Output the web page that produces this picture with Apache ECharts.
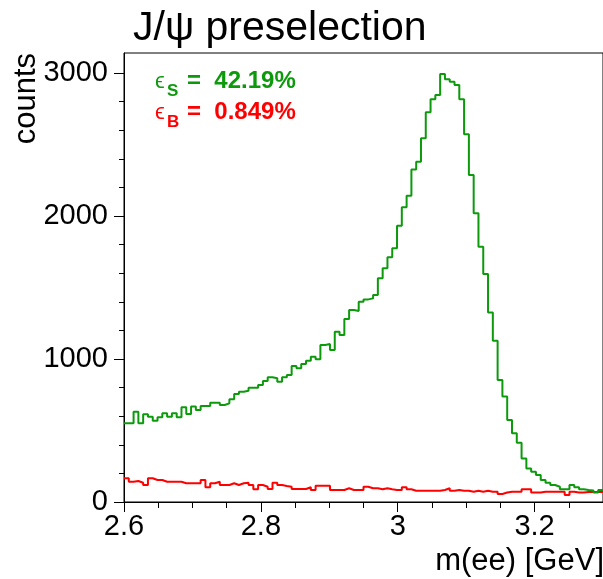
<!DOCTYPE html>
<html>
<head>
<meta charset="utf-8">
<script src="https://cdn.jsdelivr.net/npm/echarts@6/dist/echarts.min.js"></script>
<style>
  html, body { margin: 0; padding: 0; background: #fff; }
  #chart { width: 603px; height: 579px; }
</style>
</head>
<body>
<div id="chart"></div>
<script>
// histogram: 100 bins of 7 MeV from 2.6 to 3.3 GeV
const xMin = 2.6;
const xMax = 3.3;
const binWidth = 0.007;

// signal (J/psi MC), counts per bin
const signal = [
  550, 550, 632, 550, 613, 597, 569, 592, 620, 597,
  620, 592, 662, 615, 667, 643, 671, 671, 694, 694,
  678, 690, 718, 755, 771, 778, 799, 799, 818, 846,
  872, 865, 841, 872, 888, 951, 935, 965, 988, 1016,
  998, 1098, 1105, 1063, 1191, 1168, 1280, 1343, 1336, 1401,
  1417, 1424, 1448, 1564, 1634, 1711, 1774, 1932, 2061, 2142,
  2326, 2380, 2543, 2725, 2816, 2846, 2993, 2956, 2939, 2916,
  2816, 2571, 2287, 2019, 1785, 1594, 1326, 1128, 853, 737,
  573, 480, 415, 305, 235, 212, 189, 154, 135, 119,
  107, 89, 89, 119, 103, 89, 84, 80, 66, 84
];

// background, counts per bin
const background = [
  166, 142, 147, 135, 119, 166, 154, 154, 142, 142,
  142, 142, 131, 131, 131, 131, 154, 103, 131, 142,
  119, 119, 131, 119, 131, 135, 119, 89, 119, 107,
  91, 135, 119, 112, 107, 91, 91, 91, 103, 84,
  114, 114, 114, 84, 84, 84, 96, 84, 84, 84,
  107, 96, 96, 89, 96, 89, 84, 84, 103, 89,
  79, 79, 79, 79, 79, 79, 84, 96, 79, 84,
  79, 79, 72, 79, 72, 79, 72, 72, 56, 66,
  72, 72, 72, 89, 89, 66, 66, 72, 72, 72,
  72, 72, 49, 72, 66, 66, 70, 70, 70, 70
];

const xMajorTicks = [2.6, 2.8, 3.0, 3.2];
const xTickLabels = ['2.6', '2.8', '3', '3.2'];
const yMajorTicks = [0, 1000, 2000, 3000];
const yTickLabels = ['0', '1000', '2000', '3000'];
const yMax = 3140;

const effSignal = '42.19%';
const effBackground = '0.849%';

const green = '#0c9a0c';
const red = '#ff0000';
const font = '"Liberation Sans", Arial, Helvetica, sans-serif';

// left bin edges + closing point, drawn as steps
function histPoints(values) {
  const pts = values.map((v, i) => [xMin + i * binWidth, v]);
  pts.push([xMax, values[values.length - 1]]);
  return pts;
}

const xMinor = [];
for (let v = 2.65; v < xMax; v += 0.05) xMinor.push(+v.toFixed(2));
const yMinor = [];
for (let v = 200; v < yMax; v += 200) yMinor.push(v);

const grid = { left: 124, right: -1, top: 53, bottom: 77, show: true, borderColor: '#000', borderWidth: 1 };

const option = {
  animation: false,
  backgroundColor: '#fff',
  title: {
    text: 'J/ψ preselection',
    left: 128,
    top: 3,
    textStyle: { fontFamily: font, fontSize: 41, fontWeight: 'normal', color: '#000' }
  },
  grid: grid,
  xAxis: [
    {
      type: 'value', min: xMin, max: xMax,
      axisLine: { onZero: false, lineStyle: { color: '#000', width: 1 } },
      axisTick: { length: 10, customValues: xMajorTicks, lineStyle: { color: '#000' } },
      axisLabel: {
        customValues: xMajorTicks, margin: 10, color: '#000', fontFamily: font, fontSize: 29,
        formatter: v => xTickLabels[xMajorTicks.findIndex(t => Math.abs(t - v) < 1e-6)]
      },
      splitLine: { show: false }
    },
    {
      type: 'value', min: xMin, max: xMax, position: 'bottom',
      axisLine: { show: false },
      axisTick: { length: 6, customValues: xMinor, lineStyle: { color: '#000' } },
      axisLabel: { show: false },
      splitLine: { show: false }
    }
  ],
  yAxis: [
    {
      type: 'value', min: 0, max: yMax,
      axisLine: { show: true, onZero: false, lineStyle: { color: '#000', width: 1 } },
      axisTick: { show: true, length: 10, customValues: yMajorTicks, lineStyle: { color: '#000' } },
      axisLabel: {
        customValues: yMajorTicks, margin: 16, color: '#000', fontFamily: font, fontSize: 29,
        formatter: v => yTickLabels[yMajorTicks.indexOf(v)]
      },
      splitLine: { show: false }
    },
    {
      type: 'value', min: 0, max: yMax, position: 'left',
      axisLine: { show: false },
      axisTick: { show: true, length: 5, customValues: yMinor, lineStyle: { color: '#000' } },
      axisLabel: { show: false },
      splitLine: { show: false }
    }
  ],
  series: [
    {
      name: 'background', type: 'line', step: 'end', symbol: 'none',
      data: histPoints(background),
      lineStyle: { color: red, width: 2 }
    },
    {
      name: 'signal', type: 'line', step: 'end', symbol: 'none',
      data: histPoints(signal),
      lineStyle: { color: green, width: 2 }
    }
  ],
  graphic: [
    {
      type: 'text', x: 26, y: 53, rotation: Math.PI / 2,
      style: { text: 'counts', fill: '#000', font: '31px ' + font, align: 'right', verticalAlign: 'middle' }
    },
    {
      type: 'text', x: 604, y: 577,
      style: { text: 'm(ee) [GeV]', fill: '#000', font: '31px ' + font, align: 'right', verticalAlign: 'bottom' }
    },
    // efficiencies
    { type: 'text', x: 155, y: 82, style: { text: 'ϵ', fill: green, font: '22px ' + font, verticalAlign: 'middle' } },
    { type: 'text', x: 167, y: 91, style: { text: 'S', fill: green, font: 'bold 17px ' + font, verticalAlign: 'middle' } },
    { type: 'text', x: 187, y: 81, style: { text: '=  ' + effSignal, fill: green, font: 'bold 24px ' + font, verticalAlign: 'middle' } },
    { type: 'text', x: 155, y: 113, style: { text: 'ϵ', fill: red, font: '22px ' + font, verticalAlign: 'middle' } },
    { type: 'text', x: 167, y: 122, style: { text: 'B', fill: red, font: 'bold 17px ' + font, verticalAlign: 'middle' } },
    { type: 'text', x: 187, y: 112, style: { text: '=  ' + effBackground, fill: red, font: 'bold 24px ' + font, verticalAlign: 'middle' } }
  ]
};

const chart = echarts.init(document.getElementById('chart'), null, { renderer: 'canvas' });
chart.setOption(option);
</script>
</body>
</html>
